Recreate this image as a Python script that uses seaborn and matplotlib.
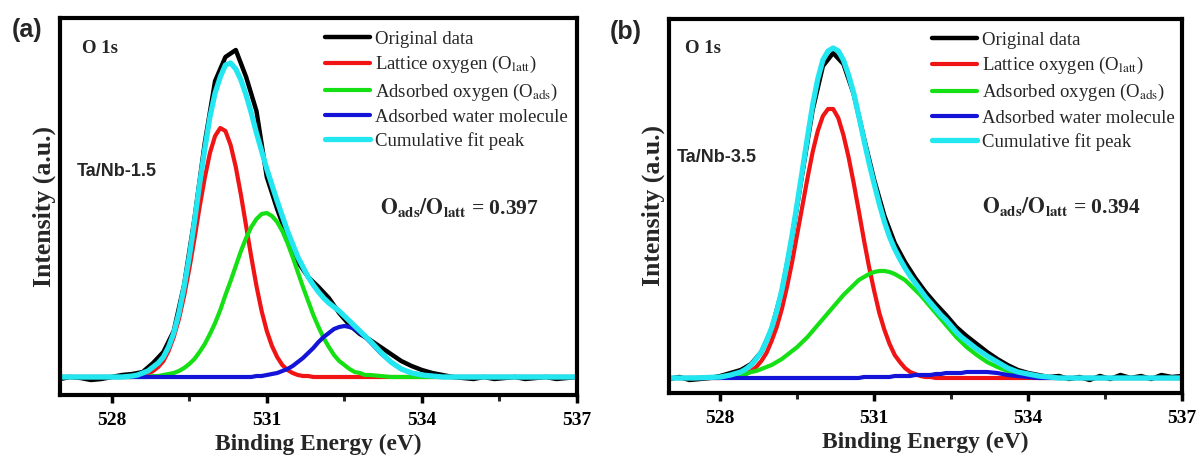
import matplotlib
matplotlib.use("Agg")
import matplotlib.pyplot as plt
import seaborn as sns
from matplotlib.lines import Line2D

# ---------------- data ----------------
# grid of the measured spectrum
energy = [527.0, 527.2, 527.4, 527.6, 527.8, 528.0, 528.2, 528.4, 528.6, 528.8,
          529.0, 529.2, 529.4, 529.6, 529.8, 530.0, 530.2, 530.4, 530.6, 530.8,
          531.0, 531.2, 531.4, 531.6, 531.8, 532.0, 532.2, 532.4, 532.6, 532.8,
          533.0, 533.2, 533.4, 533.6, 533.8, 534.0, 534.2, 534.4, 534.6, 534.8,
          535.0, 535.2, 535.4, 535.6, 535.8, 536.0, 536.2, 536.4, 536.6, 536.8,
          537.0]

# grid of the fitted curves
fit_energy = [527.0, 527.5, 528.0, 528.2, 528.4,
              528.5, 528.6, 528.7, 528.8, 528.9,
              529.0, 529.1, 529.2, 529.3, 529.4, 529.5, 529.6, 529.7, 529.8, 529.9,
              530.0, 530.1, 530.2, 530.3, 530.4, 530.5, 530.6, 530.7, 530.8, 530.9,
              531.0, 531.1, 531.2, 531.3, 531.4, 531.5, 531.6, 531.7, 531.8, 531.9,
              532.0, 532.1, 532.2, 532.3, 532.4, 532.5, 532.6, 532.7, 532.8, 532.9,
              533.0, 533.2, 533.4, 533.6, 533.8,
              534.0, 534.2, 534.4, 534.6, 534.8,
              535.0, 536.0, 537.0]

# panel (a) Ta/Nb-1.5
orig_a = [-2, 0, -1, -3, -2, 0, 2, 3, 5, 14,
          25, 46, 92, 158, 234, 296, 320, 327, 300, 266,
          200, 168, 140, 115, 100, 90, 79, 64, 52, 43,
          37, 30, 23, 16, 11, 7, 4, 2, 0, -1,
          -2, 0, -2, -1, 0, -2, -1, 0, -2, -1,
          0]
latt_a = [0, 0, 0, 0, 0,
          1, 2, 3, 6, 10,
          16, 26, 40, 58, 81, 108, 138, 170, 199, 224,
          241, 249, 246, 232, 210, 182, 151, 120, 91, 66,
          46, 31, 20, 12, 7, 4, 2, 1, 1, 0,
          0, 0, 0, 0, 0, 0, 0, 0, 0, 0,
          0, 0, 0, 0, 0,
          0, 0, 0, 0, 0,
          0, 0, 0]
ads_a = [0, 0, 0, 0, 0,
         0, 0, 0, 1, 1,
         2, 3, 4, 6, 9, 13, 18, 25, 33, 43,
         54, 67, 82, 96, 111, 126, 139, 150, 158, 163,
         164, 161, 155, 146, 134, 120, 105, 90, 76, 62,
         50, 39, 30, 22, 16, 12, 8, 5, 4, 2,
         2, 1, 0, 0, 0,
         0, 0, 0, 0, 0,
         0, 0, 0]
water_a = [0, 0, 0, 0, 0,
           0, 0, 0, 0, 0,
           0, 0, 0, 0, 0, 0, 0, 0, 0, 0,
           0, 0, 0, 0, 0, 0, 0, 0, 1, 1,
           2, 3, 4, 6, 8, 11, 15, 19, 24, 29,
           35, 40, 44, 48, 50, 51, 50, 48, 44, 40,
           35, 24, 15, 8, 4,
           2, 1, 0, 0, 0,
           0, 0, 0]
cum_a = [0, 0, 0, 0, 1,
         2, 4, 6, 10, 14,
         20, 30, 44, 64, 90, 120, 155, 193, 228, 260,
         284, 300, 312, 314, 308, 297, 282, 264, 244, 226,
         208, 192, 176, 161, 146, 133, 120, 110, 100, 92,
         85, 79, 74, 70, 66, 61, 56, 51, 46, 41,
         36, 25, 15, 8, 4,
         2, 1, 0, 0, 0,
         0, 0, 0]

# panel (b) Ta/Nb-3.5
orig_b = [-1, 1, -2, -1, 0, 2, 5, 8, 14, 26,
          49, 87, 141, 205, 268, 312, 325, 314, 284, 240,
          198, 162, 135, 116, 100, 86, 74, 63, 51, 42,
          34, 26, 19, 13, 8, 5, 3, 1, 2, -1,
          1, -2, 2, -1, 3, 0, 2, -1, 3, 1,
          2]
latt_b = [0, 0, 0, 1, 3,
          4, 7, 11, 17, 25,
          37, 51, 69, 91, 116, 144, 172, 200, 226, 247,
          262, 269, 269, 260, 243, 221, 195, 167, 138, 111,
          87, 65, 48, 34, 23, 16, 10, 6, 4, 2,
          1, 1, 0, 0, 0, 0, 0, 0, 0, 0,
          0, 0, 0, 0, 0,
          0, 0, 0, 0, 0,
          0, 0, 0]
ads_b = [0, 0, 1, 2, 3,
         4, 6, 7, 9, 11,
         13, 16, 19, 23, 27, 31, 36, 41, 47, 53,
         59, 65, 71, 77, 83, 88, 93, 98, 101, 104,
         106, 107, 107, 106, 104, 101, 98, 93, 88, 83,
         77, 71, 65, 59, 53, 47, 41, 36, 31, 27,
         23, 16, 11, 7, 4,
         3, 2, 1, 0, 0,
         0, 0, 0]
water_b = [0, 0, 0, 0, 0,
           0, 0, 0, 0, 0,
           0, 0, 0, 0, 0, 0, 0, 0, 0, 0,
           0, 0, 0, 0, 0, 0, 0, 0, 1, 1,
           1, 1, 1, 1, 2, 2, 2, 2, 3, 3,
           3, 3, 4, 4, 5, 5, 5, 5, 6, 6,
           6, 6, 5, 3, 2,
           1, 0, 0, 0, 0,
           0, 0, 0]
cum_b = [0, 0, 1, 3, 6,
         9, 13, 19, 26, 37,
         50, 67, 88, 114, 143, 175, 208, 241, 273, 299,
         318, 327, 330, 327, 318, 303, 285, 262, 238, 215,
         194, 174, 156, 141, 129, 119, 110, 102, 95, 88,
         81, 75, 69, 63, 58, 52, 46, 41, 37, 33,
         29, 22, 16, 10, 6,
         4, 2, 1, 0, 0,
         0, 0, 0]

series_labels = ["Original data",
                 "Lattice oxygen (O$_{\\rm latt}$)",
                 "Adsorbed oxygen (O$_{\\rm ads}$)",
                 "Adsorbed water molecule",
                 "Cumulative fit peak"]
panel_letters = ["(a)", "(b)"]
sample_names = ["Ta/Nb-1.5", "Ta/Nb-3.5"]
ratios = ["0.397", "0.394"]
xticks_major = [528, 531, 534, 537]
xticks_minor = [529.5, 532.5, 535.5]

# ---------------- style ----------------
sns.set_theme(style="white")
plt.rcParams["font.family"] = ["Liberation Serif", "DejaVu Serif"]
plt.rcParams["mathtext.fontset"] = "stix"

colors = ["#000000", "#f01414", "#14e014", "#1414d8", "#22e6f0"]
widths = [3.2, 3.0, 3.0, 3.0, 3.8]

fig = plt.figure(figsize=(11.98, 4.58), dpi=100)
ax_a = fig.add_axes([60 / 1198, 1 - 395 / 458, 517 / 1198, 377 / 458])
ax_b = fig.add_axes([669 / 1198, 1 - 393 / 458, 513 / 1198, 374 / 458])

panels = [
    (ax_a, orig_a, [latt_a, ads_a, water_a, cum_a], (-18, 359),
     (0.043, 0.920), (0.033, 0.592), (0.619, 0.496)),
    (ax_b, orig_b, [latt_b, ads_b, water_b, cum_b], (-15, 359),
     (0.031, 0.920), (0.016, 0.631), (0.610, 0.496)),
]

for k, (ax, orig, fits, ylim, o1s_pos, name_pos, ratio_pos) in enumerate(panels):
    sns.lineplot(x=energy, y=orig, color=colors[0], linewidth=widths[0], ax=ax,
                 sort=False, estimator=None, legend=False)
    for vals, c, lw in zip(fits, colors[1:], widths[1:]):
        sns.lineplot(x=fit_energy, y=vals, color=c, linewidth=lw, ax=ax,
                     sort=False, estimator=None, legend=False)
    for ln in ax.get_lines():
        ln.set_solid_joinstyle("round")
    ax.set_xlim(527, 537)
    ax.set_ylim(*ylim)
    ax.set_yticks([])
    ax.set_xticks(xticks_major)
    ax.set_xticks(xticks_minor, minor=True)
    ax.set_xticklabels([str(t) for t in xticks_major], fontsize=14, fontweight="bold")
    ax.tick_params(axis="x", which="major", direction="out", length=6, width=2.5,
                   bottom=True, pad=6, colors="black")
    ax.tick_params(axis="x", which="minor", direction="out", length=4, width=2.2,
                   bottom=True)
    for sp in ax.spines.values():
        sp.set_visible(True)
        sp.set_linewidth(3.0)
        sp.set_color("black")
    ax.set_xlabel("Binding Energy (eV)", fontsize=16.8, fontweight="bold", labelpad=4)
    ax.set_ylabel("Intensity (a.u.)", fontsize=18.5, fontweight="bold", labelpad=3)

    handles = [Line2D([0], [0], color=c, lw=lw) for c, lw in zip(colors, widths)]
    ax.legend(handles, series_labels, loc="upper left", bbox_to_anchor=(0.513, 0.966),
              frameon=False, handlelength=2.4, handletextpad=0.25, labelspacing=0.33,
              borderpad=0, borderaxespad=0, prop={"family": "Liberation Serif", "size": 13.5})

    ax.text(*o1s_pos, "O 1s", transform=ax.transAxes, fontsize=13.5, fontweight="bold",
            ha="left", va="center")
    ax.text(*name_pos, sample_names[k], transform=ax.transAxes, fontsize=13,
            fontweight="bold", family="Liberation Sans", ha="left", va="center")
    ax.text(*ratio_pos, "$\\mathbf{O_{ads}/O_{latt}}$ = " + ratios[k], transform=ax.transAxes,
            fontsize=15.5, fontweight="bold", ha="left", va="center")

fig.text(27 / 1198, 1 - 30 / 458, panel_letters[0], fontsize=18, fontweight="bold",
         family="Liberation Sans", ha="center", va="center")
fig.text(626 / 1198, 1 - 32 / 458, panel_letters[1], fontsize=18, fontweight="bold",
         family="Liberation Sans", ha="center", va="center")

fig.savefig("out.png", dpi=100)
